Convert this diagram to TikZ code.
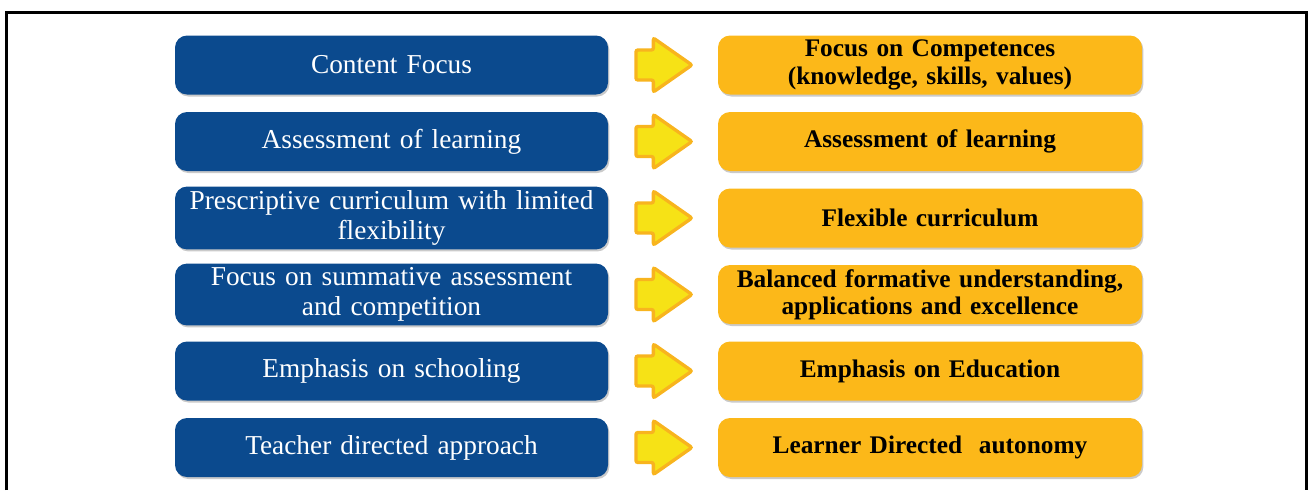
\documentclass[tikz,border=0pt]{standalone}
\usepackage{fontspec}
\setmainfont{Liberation Serif}
\usetikzlibrary{shapes.arrows,shadows,calc}
\definecolor{oldblue}{RGB}{11,74,142}
\definecolor{newgold}{RGB}{252,184,25}
\definecolor{arrowfill}{RGB}{246,226,22}
\definecolor{arrowedge}{RGB}{248,180,30}
\begin{document}
\begin{tikzpicture}[x=0.75pt,y=0.75pt,yscale=-1,xscale=1,
	oldbox/.style={fill=oldblue, rounded corners=9pt, minimum width=324.75pt, minimum height=44.25pt, inner sep=3pt, text width=318pt, align=center, text=white, font=\fontsize{20.5}{22.5}\selectfont, drop shadow={shadow xshift=1pt, shadow yshift=-1.5pt, opacity=0.35, fill=black!60}},
	newbox/.style={fill=newgold, rounded corners=9pt, minimum width=318pt, minimum height=44.25pt, inner sep=3pt, text width=312pt, align=center, text=black, font=\fontsize{19}{20.5}\selectfont\bfseries, drop shadow={shadow xshift=1pt, shadow yshift=-1.5pt, opacity=0.35, fill=black!60}},
	shiftarrow/.style={single arrow, draw=arrowedge, fill=arrowfill, line width=2.5pt, rounded corners=1.5pt, minimum height=42pt, inner xsep=0pt, inner ysep=10pt, single arrow head extend=9pt, single arrow tip angle=70, anchor=tail}
	]
	\useasboundingbox (0,0) rectangle (1308,490);
	
	%Frame
	\draw [line width=2.25pt] (6,490) -- (6,12) -- (1306,12) -- (1306,490) ;
	
	% Old focus (left column)
	\node [oldbox] (old1) at (391.5,65) {Content Focus};
	\node [oldbox] (old2) at (391.5,141.5) {Assessment of learning};
	\node [oldbox] (old3) at (391.5,218) {Prescriptive curriculum with limited\\flexibility};
	\node [oldbox] (old4) at (391.5,294.5) {Focus on summative assessment\\and competition};
	\node [oldbox] (old5) at (391.5,371) {Emphasis on schooling};
	\node [oldbox] (old6) at (391.5,447.5) {Teacher directed approach};
	
	% New focus (right column)
	\node [newbox] (new1) at (930,65) {Focus on Competences\\(knowledge, skills, values)};
	\node [newbox] (new2) at (930,141.5) {Assessment of learning};
	\node [newbox] (new3) at (930,218) {Flexible curriculum};
	\node [newbox] (new4) at (930,294.5) {Balanced formative understanding,\\applications and excellence};
	\node [newbox] (new5) at (930,371) {Emphasis on Education};
	\node [newbox] (new6) at (930,447.5) {Learner Directed~~autonomy};
	
	% Arrows
	\node [shiftarrow] (arr1) at ($(old1.east)+(26,0)$) {};
	\node [shiftarrow] (arr2) at ($(old2.east)+(26,0)$) {};
	\node [shiftarrow] (arr3) at ($(old3.east)+(26,0)$) {};
	\node [shiftarrow] (arr4) at ($(old4.east)+(26,0)$) {};
	\node [shiftarrow] (arr5) at ($(old5.east)+(26,0)$) {};
	\node [shiftarrow] (arr6) at ($(old6.east)+(26,0)$) {};
	
\end{tikzpicture}
\end{document}
